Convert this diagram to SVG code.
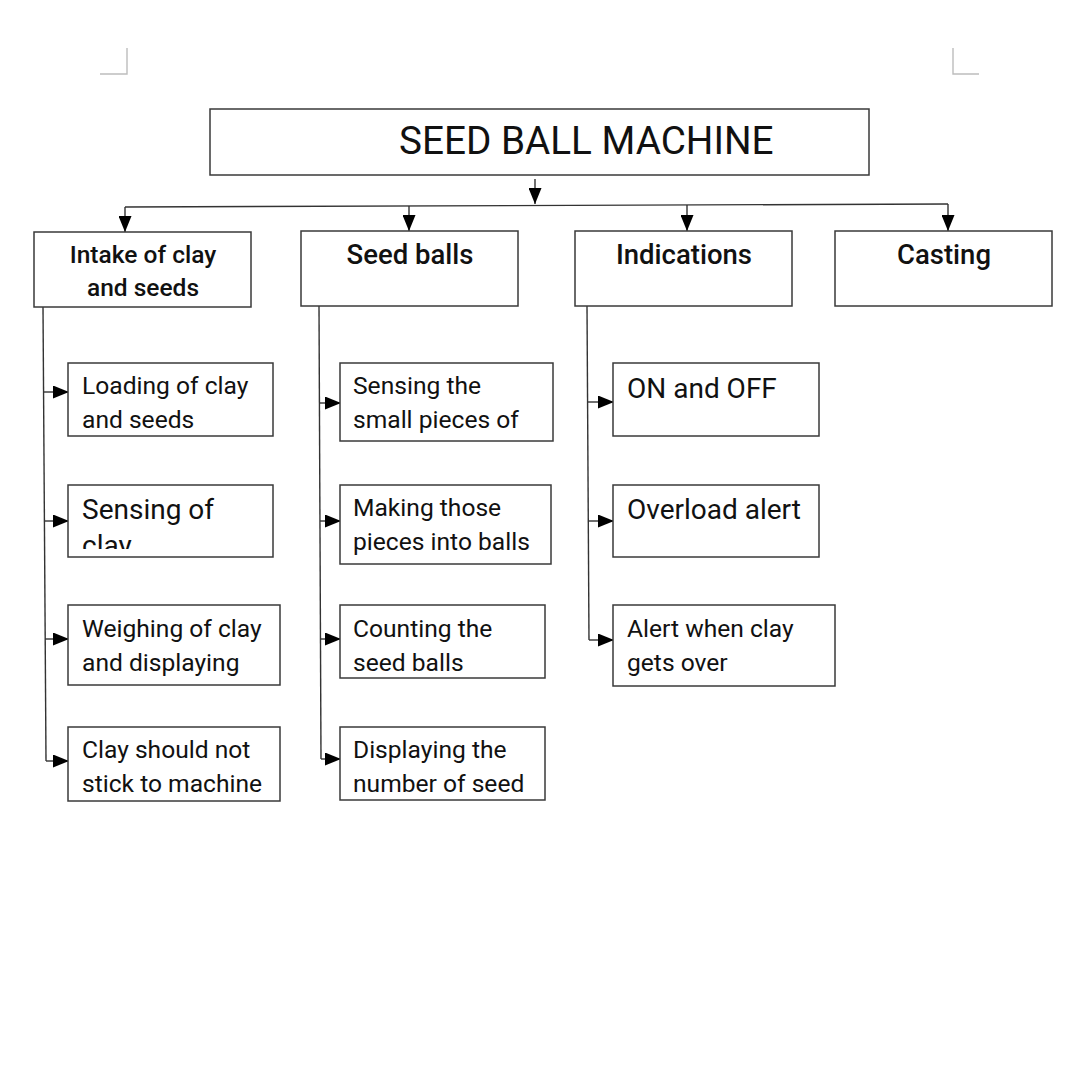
<svg xmlns="http://www.w3.org/2000/svg" width="1073" height="1073" viewBox="0 0 1073 1073">
<style>
.box{fill:#fff;stroke:#3a3a3a;stroke-width:1.5}
.ln{fill:none;stroke:#333;stroke-width:1.4}
.crn{fill:none;stroke:#bdbdbd;stroke-width:1.4}
text{font-family:Roboto,"Liberation Sans",sans-serif;fill:#111}
.title{font-size:38.7px}
.hd{font-size:24.5px;font-weight:500;text-anchor:middle}
.hdb{font-size:27.5px}
.ch{font-size:24.6px}
.big{font-size:28px}
</style>
<defs>
<marker id="ah" markerUnits="userSpaceOnUse" markerWidth="16" markerHeight="13" refX="16" refY="6.5" orient="auto">
<path d="M0,0 L16,6.5 L0,13 z" fill="#000"/>
</marker>
<clipPath id="clipSensing"><rect x="68" y="485" width="205" height="64"/></clipPath>
</defs>
<rect width="1073" height="1073" fill="#fff"/>
<g id="corners">
<path class="crn" d="M127,48 L127,74 L100,74"/>
<path class="crn" d="M953,48 L953,74 L979,74"/>
</g>
<g id="connectors">
<path class="ln" d="M535,179 L535,204" marker-end="url(#ah)"/>
<path class="ln" d="M125,207 L948,204"/>
<path class="ln" d="M125,207 L125,232" marker-end="url(#ah)"/>
<path class="ln" d="M409,206 L409,231" marker-end="url(#ah)"/>
<path class="ln" d="M687,205 L687,231" marker-end="url(#ah)"/>
<path class="ln" d="M948,204 L948,231" marker-end="url(#ah)"/>
<path class="ln" d="M43,307 L46,761"/>
<path class="ln" d="M43.5,392 L69,392" marker-end="url(#ah)"/>
<path class="ln" d="M44.3,521 L69,521" marker-end="url(#ah)"/>
<path class="ln" d="M45,639 L69,639" marker-end="url(#ah)"/>
<path class="ln" d="M46,761 L69,761" marker-end="url(#ah)"/>
<path class="ln" d="M319,306 L321,759"/>
<path class="ln" d="M319.4,403 L341,403" marker-end="url(#ah)"/>
<path class="ln" d="M320,521 L341,521" marker-end="url(#ah)"/>
<path class="ln" d="M320.5,639 L341,639" marker-end="url(#ah)"/>
<path class="ln" d="M321,759 L341,759" marker-end="url(#ah)"/>
<path class="ln" d="M587,306 L589,640"/>
<path class="ln" d="M587.5,402 L614,402" marker-end="url(#ah)"/>
<path class="ln" d="M588.3,521 L614,521" marker-end="url(#ah)"/>
<path class="ln" d="M589,640 L614,640" marker-end="url(#ah)"/>
</g>
<g id="title">
<rect class="box" x="210" y="109" width="659" height="66"/>
<text class="title" x="399" y="154">SEED BALL MACHINE</text>
</g>
<g id="intake">
<rect class="box" x="34" y="232" width="217" height="75"/>
<text class="hd" x="143" y="263">Intake of clay</text>
<text class="hd" x="143" y="296">and seeds</text>
</g>
<g id="seedballs">
<rect class="box" x="301" y="231" width="217" height="75"/>
<text class="hd hdb" x="410" y="264">Seed balls</text>
</g>
<g id="indications">
<rect class="box" x="575" y="231" width="217" height="75"/>
<text class="hd hdb" x="684" y="264">Indications</text>
</g>
<g id="casting">
<rect class="box" x="835" y="231" width="217" height="75"/>
<text class="hd hdb" x="944" y="264">Casting</text>
</g>
<g id="loading">
<rect class="box" x="68" y="363" width="205" height="73"/>
<text class="ch" x="82" y="394">Loading of clay</text>
<text class="ch" x="82" y="428">and seeds</text>
</g>
<g id="sensingclay">
<rect class="box" x="68" y="485" width="205" height="72"/>
<g clip-path="url(#clipSensing)">
<text class="big" x="82" y="519">Sensing of</text>
<text class="big" x="82" y="555">clay</text>
</g>
</g>
<g id="weighing">
<rect class="box" x="68" y="605" width="212" height="80"/>
<text class="ch" x="82" y="637">Weighing of clay</text>
<text class="ch" x="82" y="671">and displaying</text>
</g>
<g id="stick">
<rect class="box" x="68" y="727" width="212" height="74"/>
<text class="ch" x="82" y="758">Clay should not</text>
<text class="ch" x="82" y="792">stick to machine</text>
</g>
<g id="sensingpieces">
<rect class="box" x="340" y="363" width="213" height="78"/>
<text class="ch" x="353" y="394">Sensing the</text>
<text class="ch" x="353" y="428">small pieces of</text>
</g>
<g id="making">
<rect class="box" x="340" y="485" width="211" height="79"/>
<text class="ch" x="353" y="516">Making those</text>
<text class="ch" x="353" y="550">pieces into balls</text>
</g>
<g id="counting">
<rect class="box" x="340" y="605" width="205" height="73"/>
<text class="ch" x="353" y="637">Counting the</text>
<text class="ch" x="353" y="671">seed balls</text>
</g>
<g id="displaying">
<rect class="box" x="340" y="727" width="205" height="73"/>
<text class="ch" x="353" y="758">Displaying the</text>
<text class="ch" x="353" y="792">number of seed</text>
</g>
<g id="onoff">
<rect class="box" x="613" y="363" width="206" height="73"/>
<text class="big" x="627" y="398">ON and OFF</text>
</g>
<g id="overload">
<rect class="box" x="613" y="485" width="206" height="72"/>
<text class="big" x="627" y="519">Overload alert</text>
</g>
<g id="alert">
<rect class="box" x="613" y="605" width="222" height="81"/>
<text class="ch" x="627" y="637">Alert when clay</text>
<text class="ch" x="627" y="671">gets over</text>
</g>
</svg>
